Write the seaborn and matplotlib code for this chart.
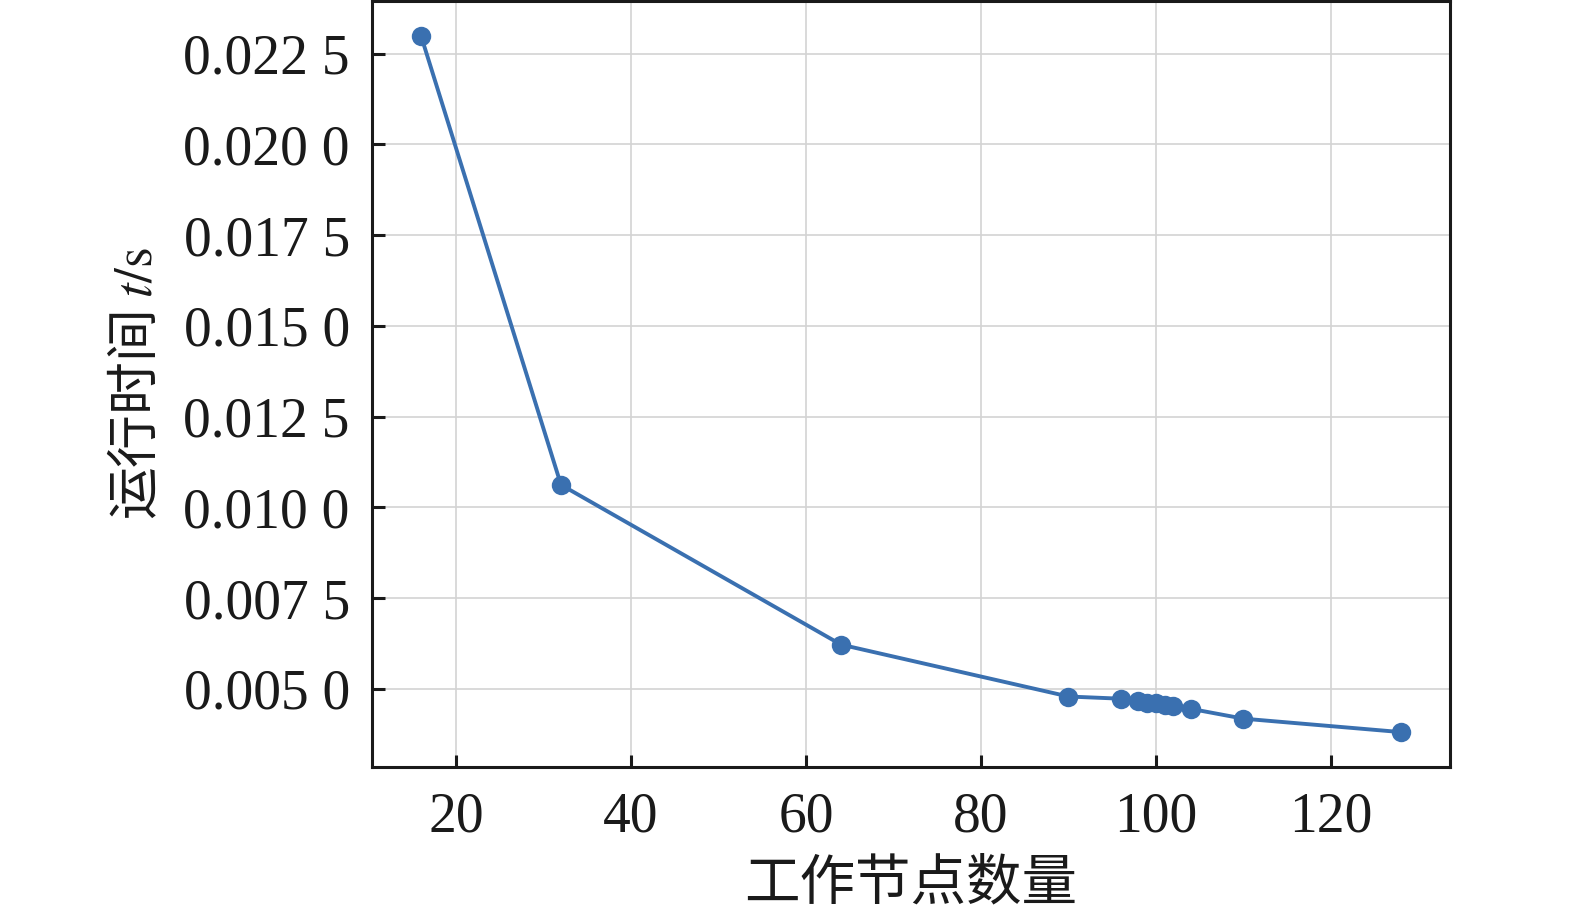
import numpy as np
import pandas as pd
import seaborn as sns
import matplotlib
matplotlib.use('Agg')
import matplotlib.pyplot as plt
from matplotlib.ticker import FuncFormatter

# data
nodes = [16, 32, 64, 90, 96, 98, 99, 100, 101, 102, 104, 110, 128]
run_time = [0.02299, 0.01062, 0.00622, 0.00479, 0.00473, 0.00467, 0.00461,
            0.00461, 0.00456, 0.00452, 0.00445, 0.00418, 0.00381]
x_ticks = [20, 40, 60, 80, 100, 120]
y_ticks = [0.005, 0.0075, 0.01, 0.0125, 0.015, 0.0175, 0.02, 0.0225]

data = pd.DataFrame({'nodes': nodes, 'time': run_time})

sns.set_theme(style='whitegrid')
plt.rcParams['font.family'] = ['Liberation Serif', 'Noto Sans CJK SC', 'DejaVu Sans']
plt.rcParams['mathtext.fontset'] = 'stix'

fig, ax = plt.subplots(figsize=(15.75, 9.13), dpi=100)
fig.subplots_adjust(left=0.2362, right=0.9206, top=0.999, bottom=0.160)

color = '#3a70b0'
sns.lineplot(x='nodes', y='time', data=data, ax=ax, color=color, linewidth=2.8,
             marker='o', markersize=14, markeredgewidth=0, markerfacecolor=color)

ax.set_xticks(x_ticks)
ax.set_yticks(y_ticks)


def fmt(v, pos):
    s = f'{v:.4f}'
    return s[:5] + ' ' + s[5:]


ax.yaxis.set_major_formatter(FuncFormatter(fmt))

ax.grid(True, color='#d3d3d3', linewidth=1.2)
for side in ['left', 'right', 'top', 'bottom']:
    ax.spines[side].set_visible(True)
    ax.spines[side].set_color('#1a1a1a')
    ax.spines[side].set_linewidth(2.2)

ax.tick_params(axis='both', which='major', direction='in', length=9, width=2.2,
               color='#1a1a1a', labelsize=40, labelcolor='#1a1a1a',
               left=True, bottom=True, top=False, right=False)
ax.tick_params(axis='y', pad=16)
ax.tick_params(axis='x', pad=18)

ax.set_xlabel('工作节点数量', fontsize=40, color='#1a1a1a', labelpad=8,
              family='Noto Sans CJK SC')
ax.set_ylabel(r'运行时间 $t\mathrm{/s}$', fontsize=38, color='#1a1a1a', labelpad=14,
              family='Noto Sans CJK SC')

fig.savefig('out.png', dpi=100)
